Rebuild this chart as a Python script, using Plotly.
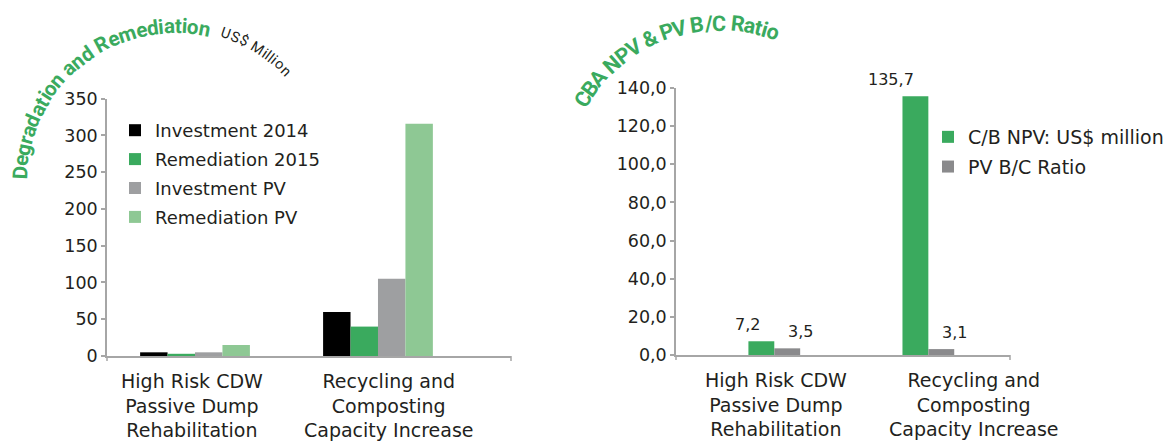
import math
import plotly.graph_objects as go

W, H = 1176, 441

# ---------------- data ----------------
categories = ["High Risk CDW<br>Passive Dump<br>Rehabilitation",
              "Recycling and<br>Composting<br>Capacity Increase"]

investment_2014 = [5, 60]
remediation_2015 = [3, 40]
investment_pv = [5, 105]
remediation_pv = [15, 316]

cb_npv = [7.2, 135.7]
pv_bc_ratio = [3.5, 3.1]

left_series_names = ["Investment 2014", "Remediation 2015", "Investment PV", "Remediation PV"]
right_series_names = ["C/B NPV: US$ million", "PV B/C Ratio"]

left_yticks = [0, 50, 100, 150, 200, 250, 300, 350]
right_yticks = [0, 20, 40, 60, 80, 100, 120, 140]

left_title = "Degradation and Remediation"
left_unit = "US$ Million"
right_title = "CBA NPV & PV B/C Ratio"

# ---------------- style ----------------
GREEN = "#3aaa5e"
LIGHT_GREEN = "#8ec894"
GRAY = "#9e9fa1"
DARK_GRAY = "#8a8a8c"
BLACK = "#000000"
AXIS = "#a6a6a6"
TXT = "#231f20"
FONT = "DejaVu Sans"
TFONT = "Roboto"

left_colors = [BLACK, GREEN, GRAY, LIGHT_GREEN]
right_colors = [GREEN, DARK_GRAY]

# horizontal offsets (px) of the category label blocks, as placed in the original
left_label_shift = [-3, 11]
right_label_shift = [2, 45]

fig = go.Figure()

left_values = [investment_2014, remediation_2015, investment_pv, remediation_pv]
bw_left = 0.15
for i, (name, vals, col) in enumerate(zip(left_series_names, left_values, left_colors)):
    fig.add_trace(go.Bar(
        x=categories, y=vals, name=name, marker=dict(color=col, line=dict(width=0)),
        width=bw_left, offset=-2 * bw_left + i * bw_left,
        xaxis="x", yaxis="y", legend="legend", legendgroup="l%d" % i,
        hoverinfo="skip"))

right_values = [cb_npv, pv_bc_ratio]
bw_right = 0.168
for i, (name, vals, col) in enumerate(zip(right_series_names, right_values, right_colors)):
    fig.add_trace(go.Bar(
        x=categories, y=vals, name=name, marker=dict(color=col, line=dict(width=0)),
        width=bw_right, offset=-bw_right + i * bw_right,
        xaxis="x2", yaxis="y2", legend="legend2", legendgroup="r%d" % i,
        hoverinfo="skip"))


def fmt(v):
    return ("%.1f" % v).replace(".", ",")


annotations = []
for i, cat in enumerate(categories):
    annotations.append(dict(x=cat, y=cb_npv[i], xref="x2", yref="y2", text=fmt(cb_npv[i]),
                            showarrow=False, xanchor="right", yanchor="bottom",
                            xshift=-12, yshift=5, font=dict(family=FONT, size=16, color=TXT)))
    annotations.append(dict(x=cat, y=pv_bc_ratio[i], xref="x2", yref="y2", text=fmt(pv_bc_ratio[i]),
                            showarrow=False, xanchor="left", yanchor="bottom",
                            xshift=12, yshift=5, font=dict(family=FONT, size=16, color=TXT)))

# category labels
for xa, ya, shifts in [("x", "y", left_label_shift), ("x2", "y2", right_label_shift)]:
    for cat, s in zip(categories, shifts):
        annotations.append(dict(x=cat, xref=xa, y=0, yref=ya + " domain", text=cat,
                                showarrow=False, xanchor="center", yanchor="top", align="center",
                                xshift=s, yshift=-12,
                                font=dict(family=FONT, size=19, color=TXT)))

# ------------- curved titles -------------
CW = {' ': 0.25, 'a': 0.55, 'b': 0.56, 'c': 0.52, 'd': 0.56, 'e': 0.55, 'g': 0.56, 'i': 0.25,
      'l': 0.25, 'm': 0.88, 'n': 0.56, 'o': 0.57, 'r': 0.35, 't': 0.33, 'D': 0.66, 'R': 0.64,
      'U': 0.64, 'S': 0.6, '$': 0.56, 'M': 0.87, 'C': 0.65, 'B': 0.62, 'A': 0.65, 'N': 0.71,
      'P': 0.63, 'V': 0.64, '&': 0.64, '/': 0.41}


def arc_text(text, cx, cy, r, a0, a1, size, color, bold):
    w = [CW.get(c, 0.55) for c in text]
    pos = []
    acc = 0
    for wi in w:
        pos.append(acc + wi / 2)
        acc += wi
    p0, p1 = pos[0], pos[-1]
    out = []
    for c, p in zip(text, pos):
        if c == ' ':
            continue
        t = (p - p0) / (p1 - p0)
        ang = a0 + t * (a1 - a0)
        rad = math.radians(ang)
        px = cx + r * math.sin(rad)
        py = cy - r * math.cos(rad)
        out.append(dict(x=px / W, y=1 - py / H, xref="paper", yref="paper",
                        text=c.replace("&", "&amp;").replace("$", "&#36;"), showarrow=False,
                        xanchor="center", yanchor="middle", textangle=ang,
                        font=dict(family=TFONT, size=size, color=color,
                                  weight="bold" if bold else "normal")))
    return out


annotations += arc_text(left_title, 175, 181, 155, -87, 11, 20.5, GREEN, True)
annotations += arc_text(left_unit, 175, 181, 156, 19, 45.3, 14.5, TXT, False)
annotations += arc_text(right_title, 720, 185, 162, -58, 19, 21.5, GREEN, True)

# ------------- axis end ticks -------------
shapes = []
for xa, ya in [("x", "y"), ("x2", "y2")]:
    for xd in (0, 1):
        shapes.append(dict(type="line", xref=xa + " domain", yref=ya + " domain",
                           x0=xd, x1=xd, ysizemode="pixel", yanchor=0, y0=0, y1=-5,
                           line=dict(color=AXIS, width=1.5)))

axis_common = dict(showline=True, linecolor=AXIS, linewidth=1.5, showgrid=False, zeroline=False,
                   automargin=False)

fig.update_layout(
    width=W, height=H,
    margin=dict(l=0, r=0, t=0, b=0, pad=0, autoexpand=False),
    paper_bgcolor="white", plot_bgcolor="white",
    barmode="overlay",
    separators=",.",
    font=dict(family=FONT, size=18, color=TXT),
    showlegend=True,
    xaxis=dict(domain=[107 / W, 511 / W], anchor="y", type="category",
               range=[-0.481, 1.727], ticks="", showticklabels=False, **axis_common),
    yaxis=dict(domain=[(H - 356) / H, (H - 98.7) / H], anchor="x", range=[0, 350],
               tickvals=left_yticks, ticks="outside", ticklen=4, tickcolor=AXIS, tickwidth=1.5,
               tickfont=dict(family=FONT, size=17.5, color=TXT), **axis_common),
    xaxis2=dict(domain=[676 / W, 1010 / W], anchor="y2", type="category",
                range=[-0.638, 1.530], ticks="", showticklabels=False, **axis_common),
    yaxis2=dict(domain=[(H - 355) / H, (H - 88) / H], anchor="x2", range=[0, 140],
                tickvals=right_yticks, tickformat=".1f", ticks="outside", ticklen=4,
                tickcolor=AXIS, tickwidth=1.5,
                tickfont=dict(family=FONT, size=17.5, color=TXT), **axis_common),
    legend=dict(x=115 / W, y=1 - 112 / H, xanchor="left", yanchor="top",
                bgcolor="rgba(0,0,0,0)", font=dict(family=FONT, size=18, color=TXT),
                traceorder="grouped", tracegroupgap=2.5),
    legend2=dict(x=928 / W, y=1 - 118 / H, xanchor="left", yanchor="top",
                 bgcolor="rgba(0,0,0,0)", font=dict(family=FONT, size=19, color=TXT),
                 traceorder="grouped", tracegroupgap=2),
    annotations=annotations,
    shapes=shapes,
)

fig.write_html("out.html", config={"displayModeBar": False},
               post_script="document.body.style.margin='0';document.body.style.overflow='hidden';")
